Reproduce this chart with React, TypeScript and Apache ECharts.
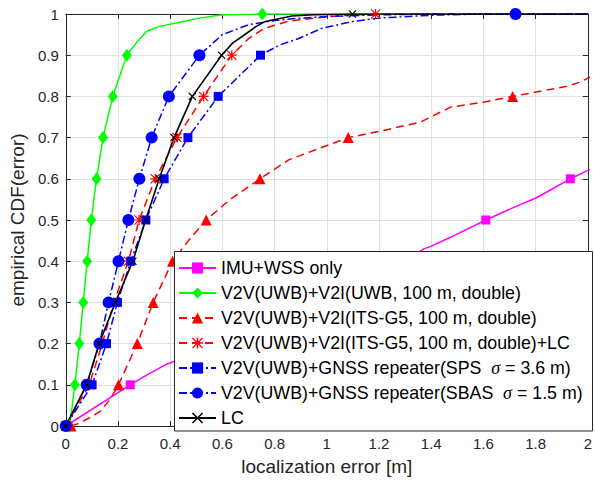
import React, { useEffect, useRef } from "react";
import * as echarts from "echarts";

const FONT = "'Liberation Sans', Arial, Helvetica, sans-serif";

const xTicks = [0, 0.2, 0.4, 0.6, 0.8, 1, 1.2, 1.4, 1.6, 1.8, 2];
const xTickLabels = ["0", "0.2", "0.4", "0.6", "0.8", "1", "1.2", "1.4", "1.6", "1.8", "2"];
const yTicks = [0, 0.1, 0.2, 0.3, 0.4, 0.5, 0.6, 0.7, 0.8, 0.9, 1];
const yTickLabels = ["0", "0.1", "0.2", "0.3", "0.4", "0.5", "0.6", "0.7", "0.8", "0.9", "1"];

const seriesNames = [
  "IMU+WSS only",
  "V2V(UWB)+V2I(UWB, 100 m, double)",
  "V2V(UWB)+V2I(ITS-G5, 100 m, double)",
  "V2V(UWB)+V2I(ITS-G5, 100 m, double)+LC",
  "V2V(UWB)+GNSS repeater(SPS  σ = 3.6 m)",
  "V2V(UWB)+GNSS repeater(SBAS  σ = 1.5 m)",
  "LC",
];

type P = [number, number];

// IMU+WSS only
const imuCurve: P[] = [
  [0.3, 0.12], [0.386, 0.15], [0.45, 0.165],
  [0.6, 0.2], [0.8, 0.25], [1.0, 0.3], [1.2, 0.36], [1.372, 0.43], [1.398, 0.436],
  [1.474, 0.458], [1.714, 0.53], [1.803, 0.554], [2.05, 0.635],
];
const imuMarks: P[] = [[0, 0], [0.247, 0.1], [1.609, 0.5], [1.933, 0.6]];

// V2V(UWB)+V2I(UWB)
const uwbCurve: P[] = [
  [0.27, 0.93], [0.31, 0.958], [0.36, 0.97], [0.45, 0.982], [0.512, 0.99],
  [0.6, 0.998], [2, 1],
];
const uwbMarks: P[] = [
  [0.015, 0], [0.035, 0.1], [0.052, 0.2], [0.067, 0.3], [0.082, 0.4], [0.098, 0.5],
  [0.118, 0.6], [0.143, 0.7], [0.18, 0.8], [0.234, 0.9], [0.753, 1],
];

// V2V(UWB)+V2I(ITS-G5)
const itsCurve: P[] = [
  [0.044, 0.005], [0.082, 0.017], [0.133, 0.036], [0.17, 0.065], [0.47, 0.45],
  [0.63, 0.55], [0.854, 0.646], [1.006, 0.682], [1.2, 0.715], [1.36, 0.738],
  [1.474, 0.774], [1.6, 0.786], [1.916, 0.824], [1.967, 0.834], [2.05, 0.86],
];
const itsMarks: P[] = [
  [0.02, 0], [0.202, 0.1], [0.274, 0.2], [0.335, 0.3], [0.409, 0.4], [0.538, 0.5],
  [0.744, 0.6], [1.082, 0.7], [1.712, 0.8],
];

// V2V(UWB)+V2I(ITS-G5)+LC
const itsLcCurve: P[] = [
  [0.7, 0.94], [0.76, 0.965], [0.85, 0.982], [0.95, 0.99], [1.05, 0.996], [2, 1],
];
const itsLcMarks: P[] = [
  [0, 0], [0.09, 0.1], [0.14, 0.2], [0.185, 0.3], [0.24, 0.4], [0.281, 0.5],
  [0.343, 0.6], [0.426, 0.7], [0.528, 0.8], [0.636, 0.9], [1.187, 1],
];

// GNSS repeater SPS
const spsCurve: P[] = [
  [0.82, 0.925], [0.89, 0.94], [0.98, 0.965], [1.1, 0.982], [1.2, 0.99],
  [1.4, 0.997], [1.6, 1], [2, 1],
];
const spsMarks: P[] = [
  [0, 0], [0.101, 0.1], [0.156, 0.2], [0.198, 0.3], [0.249, 0.4], [0.307, 0.5],
  [0.377, 0.6], [0.468, 0.7], [0.584, 0.8], [0.746, 0.9],
];

// GNSS repeater SBAS
const sbasCurve: P[] = [
  [0.6, 0.95], [0.7, 0.974], [0.8, 0.984], [0.9, 0.99], [1.0, 0.994], [1.2, 0.998],
  [1.4, 1], [2, 1],
];
const sbasMarks: P[] = [
  [0, 0], [0.08, 0.1], [0.129, 0.2], [0.164, 0.3], [0.202, 0.4], [0.24, 0.5],
  [0.282, 0.6], [0.329, 0.7], [0.395, 0.8], [0.512, 0.9], [1.723, 1],
];

// LC
const lcCurve: P[] = [
  [0.64, 0.93], [0.677, 0.946], [0.73, 0.97], [0.765, 0.982], [0.866, 0.995],
  [0.95, 0.998], [2, 1],
];
const lcMarks: P[] = [
  [0, 0], [0.08, 0.1], [0.128, 0.2], [0.19, 0.3], [0.257, 0.4], [0.306, 0.5],
  [0.358, 0.6], [0.415, 0.7], [0.485, 0.8], [0.597, 0.9], [1.098, 1],
];

const ASTERISK =
  "path://M4.4,0L5.6,0L5.6,4.4L10,4.4L10,5.6L5.6,5.6L5.6,10L4.4,10L4.4,5.6L0,5.6L0,4.4L4.4,4.4Z" +
  "M0.8,0L5,4.2L9.2,0L10,0.8L5.8,5L10,9.2L9.2,10L5,5.8L0.8,10L0,9.2L4.2,5L0,0.8Z";
const XMARK = "path://M0,1L1,0L5,4L9,0L10,1L6,5L10,9L9,10L5,6L1,10L0,9L4,5Z";

function build(curve: P[], marks: P[]) {
  const pts: any[] = [
    ...curve.map((p) => ({ value: p, symbol: "none" })),
    ...marks.map((p) => ({ value: p })),
  ];
  pts.sort((a, b) => a.value[0] - b.value[0] || a.value[1] - b.value[1]);
  return pts;
}

const DASH = [8, 5];
const DASHDOT = [8, 3, 2, 3];

export default function App() {
  const ref = useRef<HTMLDivElement>(null);
  useEffect(() => {
    if (!ref.current) return;
    const chart = echarts.init(ref.current, undefined, { renderer: "svg" });
    const mk = (
      name: string,
      curve: P[],
      marks: P[],
      color: string,
      symbol: string,
      symbolSize: any,
      type: any,
      width = 1.5
    ) => ({
      type: "line",
      name,
      data: build(curve, marks),
      symbol,
      symbolSize,
      showSymbol: true,
      clip: true,
      z: 2,
      itemStyle: { color, borderWidth: 0 },
      lineStyle: { color, width, type },
      emphasis: { disabled: true },
    });
    const fmt = (ticks: number[], labels: string[]) => (v: number) => {
      const i = ticks.findIndex((t) => Math.abs(t - v) < 1e-6);
      return i >= 0 ? labels[i] : "";
    };
    const axisCommon = {
      axisLine: { show: true, onZero: false, lineStyle: { color: "#262626", width: 1 } },
      axisTick: { show: true, inside: true, length: 5, lineStyle: { color: "#262626" } },
    };
    chart.setOption({
      animation: false,
      backgroundColor: "#ffffff",
      grid: { left: 65, right: 3, top: 14, bottom: 50, containLabel: false },
      xAxis: [
        {
          type: "value",
          min: 0,
          max: 2,
          interval: 0.2,
          position: "bottom",
          ...axisCommon,
          axisLabel: {
            formatter: fmt(xTicks, xTickLabels),
            fontSize: 15,
            color: "#262626",
            fontFamily: FONT,
            margin: 10,
          },
          splitLine: { show: true, lineStyle: { color: "#e0e0e0", width: 1 } },
          name: "localization error [m]",
          nameLocation: "middle",
          nameGap: 31,
          nameTextStyle: { fontSize: 19, color: "#262626", fontFamily: FONT },
        },
        {
          type: "value",
          min: 0,
          max: 2,
          interval: 0.2,
          position: "top",
          ...axisCommon,
          axisLabel: { show: false },
          splitLine: { show: false },
        },
      ],
      yAxis: [
        {
          type: "value",
          min: 0,
          max: 1,
          interval: 0.1,
          position: "left",
          ...axisCommon,
          axisLabel: {
            formatter: fmt(yTicks, yTickLabels),
            fontSize: 15,
            color: "#262626",
            fontFamily: FONT,
            margin: 7,
          },
          splitLine: { show: true, lineStyle: { color: "#e0e0e0", width: 1 } },
          name: "empirical CDF(error)",
          nameLocation: "middle",
          nameGap: 34,
          nameRotate: 90,
          nameTextStyle: { fontSize: 19, color: "#262626", fontFamily: FONT },
        },
        {
          type: "value",
          min: 0,
          max: 1,
          interval: 0.1,
          position: "right",
          ...axisCommon,
          axisLabel: { show: false },
          splitLine: { show: false },
        },
      ],
      legend: {
        orient: "vertical",
        left: 174,
        top: 252,
        z: 10,
        padding: [6, 4, 3, 4],
        itemWidth: 37,
        itemHeight: 14,
        itemGap: 5,
        selectedMode: false,
        backgroundColor: "transparent",
        data: seriesNames,
        formatter: (n: string) => n.replace("σ", "{i|σ}"),
        textStyle: {
          fontFamily: FONT,
          fontSize: 17.8,
          color: "#000000",
          lineHeight: 20,
          rich: {
            i: {
              fontFamily: "'Liberation Serif', 'DejaVu Serif', serif",
              fontStyle: "italic",
              fontSize: 18,
              lineHeight: 20,
              color: "#000000",
            },
          },
        },
      },
      graphic: {
        z: 8,
        zlevel: 0,
        elements: [
          {
            type: "rect",
            z: 8,
            shape: { x: 174.5, y: 251.5, width: 418, height: 179.5 },
            style: { fill: "#ffffff", stroke: "#262626", lineWidth: 1 },
            silent: true,
          },
        ],
      },
      series: [
        mk(seriesNames[0], imuCurve, imuMarks, "#ff00ff", "rect", 9, "solid"),
        mk(seriesNames[1], uwbCurve, uwbMarks, "#00ff00", "diamond", [10, 13], "solid"),
        mk(seriesNames[2], itsCurve, itsMarks, "#ff0000", "triangle", 11, DASH),
        mk(seriesNames[3], itsLcCurve, itsLcMarks, "#ff0000", ASTERISK, 10, DASH),
        mk(seriesNames[4], spsCurve, spsMarks, "#0000ff", "rect", 9, DASHDOT),
        mk(seriesNames[5], sbasCurve, sbasMarks, "#0000ff", "circle", 12, DASHDOT),
        mk(seriesNames[6], lcCurve, lcMarks, "#000000", XMARK, 8, "solid", 1.6),
      ],
    });
    return () => chart.dispose();
  }, []);
  return (
    <div
      ref={ref}
      style={{ position: "absolute", left: 0, top: 0, width: 595, height: 481, background: "#fff" }}
    />
  );
}
